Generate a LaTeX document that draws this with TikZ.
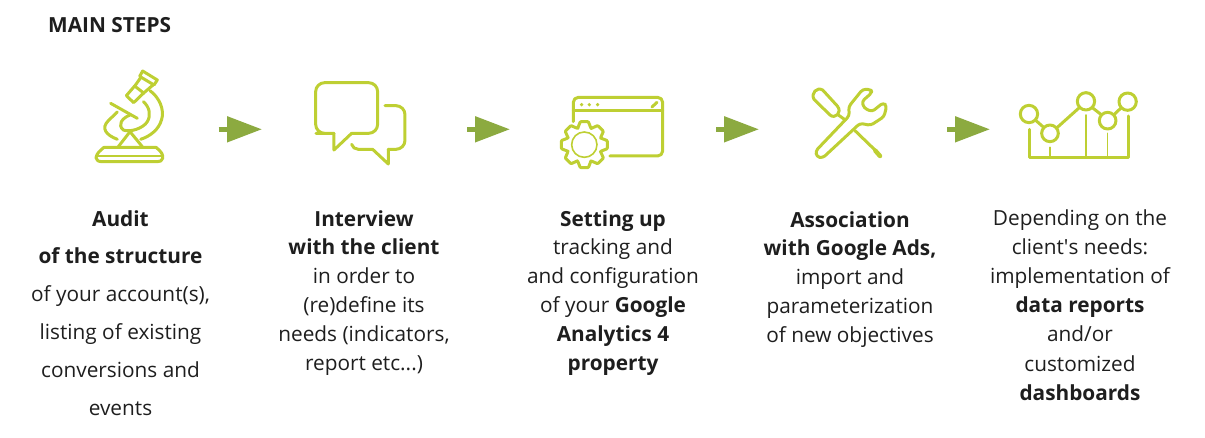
\documentclass[tikz,border=0pt]{standalone}
\usepackage{fontspec}
\setmainfont{Open Sans}
\newfontfamily\plainfont{Open Sans}
\usetikzlibrary{arrows.meta}
\definecolor{icon}{HTML}{BECF33}
\definecolor{flowc}{HTML}{8CAA40}
\definecolor{ink}{HTML}{1E1E1E}
\tikzset{
  x=1pt,y=-1pt,
  iconline/.style={draw=icon,line width=3pt,line cap=round,line join=round},
  thinline/.style={draw=icon,line width=1.6pt,line cap=round},
  flowarrow/.style={draw=flowc,line width=5pt,-{Triangle[length=35pt,width=25pt,fill=flowc]}},
  step text/.style={font=\fontsize{20.8}{#1}\selectfont,align=center,anchor=north,inner sep=0pt,text=ink},
  zoomA/.style={shift={(80,60)},x=0.3333pt,y=-0.3333pt},
  zoomB/.style={shift={(450,70)},x=0.3333pt,y=-0.3333pt},
  zoomC/.style={shift={(800,70)},x=0.3333pt,y=-0.3333pt}
}
\begin{document}
\begin{tikzpicture}
\useasboundingbox (0,0) rectangle (1205,437);
\node[anchor=base west,inner sep=0pt,font=\fontsize{20.8}{24}\selectfont\bfseries,text=ink] (title) at (48,32) {MAIN STEPS};

% microscope
\begin{scope}[zoomA]
 \draw[iconline] (179,49) -- (188,33) -- (232,60) -- (222,75) -- cycle;
 \draw[iconline] (182,53) -- (163,80) (219,75) -- (190,100);
 \draw[iconline] (139,107) -- (164,78) -- (191,99) -- (161,128) -- cycle;
 \draw[iconline] (210,92) .. controls (238,112) and (254,150) .. (245,178) .. controls (237,208) and (212,228) .. (182,238);
 \draw[iconline] (190,125) .. controls (208,140) and (214,165) .. (202,185) .. controls (190,205) and (150,218) .. (130,210) .. controls (112,195) and (125,175) .. (150,165);
 \draw[iconline] (92,130) -- (172,175);
 \draw[iconline] (112,156) -- (85,182) .. controls (62,205) and (78,225) .. (112,238);
 \draw[iconline] (150,215) -- (115,260) (150,215) -- (187,260);
 \draw[iconline] (72,262) -- (228,262) .. controls (245,275) and (250,285) .. (248,295) .. controls (246,303) and (240,305) .. (232,305) -- (65,305) .. controls (55,305) and (48,300) .. (48,293) .. controls (50,280) and (60,272) .. (72,262) -- cycle;
 \draw[thinline] (55,288) -- (243,288);
\end{scope}

% speech bubbles
\begin{scope}[zoomA]
 \draw[iconline,rounded corners=9pt] (762,220) -- (735,220) -- (707,220) -- (707,68) -- (893,68) -- (893,220) -- (815,220);
 \draw[iconline] (815,220) -- (762,270) -- (762,220);
 \draw[iconline,rounded corners=9pt] (915,137) -- (975,137) -- (975,268) -- (925,268);
 \draw[iconline] (925,268) -- (925,312) -- (878,268) -- (835,268) .. controls (825,268) and (818,262) .. (815,253);
\end{scope}

% window and gear
\begin{scope}[zoomB]
 \draw[iconline,rounded corners=5pt] (370,155) -- (370,82) -- (638,82) -- (638,258) -- (480,258);
 \draw[iconline] (370,122) -- (638,122);
 \fill[icon] (395,104) circle (5.5) (418,104) circle (5.5) (443,104) circle (5.5);
 \draw[iconline] (606,111) -- (621,97);
 \draw[iconline,rounded corners=0.8pt]
  \foreach \a in {0,45,...,315} {
    ({403+53*cos(\a-22)},{224+53*sin(\a-22)}) -- ({403+70*cos(\a-10)},{224+70*sin(\a-10)}) -- ({403+70*cos(\a+10)},{224+70*sin(\a+10)}) -- ({403+53*cos(\a+22)},{224+53*sin(\a+22)})
    -- ({403+53*cos(\a+45-22)},{224+53*sin(\a+45-22)})
  };
 \draw[thinline] (403,224) circle (38);
\end{scope}

% tools
\begin{scope}[zoomC]
 \draw[iconline,rounded corners=3pt] (47,243) -- (148,137) -- (146,110) -- (188,58) -- (212,58) -- (216,68) -- (186,94) -- (192,114) -- (216,125) -- (250,98) -- (260,108) -- (252,140) -- (212,166) -- (180,160) -- (68,264) -- (50,260) -- cycle;
 \draw[iconline] (42,88) .. controls (32,70) and (50,50) .. (68,60) -- (112,108) .. controls (128,128) and (105,148) .. (90,135) -- cycle;
 \draw[iconline] (115,135) -- (136,150) (165,182) -- (225,240);
 \draw[draw=icon,line width=4.5pt,line cap=round] (226,242) -- (240,258);
\end{scope}

% chart
\begin{scope}[zoomC]
 \draw[iconline] (690,178) -- (690,262) -- (985,262) -- (985,138);
 \draw[thinline] (750,232) -- (750,262) (858,135) -- (858,262) (923,190) -- (923,262);
 \draw[iconline] (687,132) circle (26) (750,190) circle (25) (858,94) circle (26) (923,152) circle (25) (983,95) circle (26);
 \draw[iconline] (706,150) -- (731,172) (770,174) -- (838,113) (877,113) -- (904,134) (942,134) -- (964,113);
\end{scope}

% arrows
\coordinate (a1s) at (218.5,129.3); \coordinate (a1e) at (262,129.3);
\coordinate (a2s) at (467.3,129.3); \coordinate (a2e) at (510,129.3);
\coordinate (a3s) at (716,129.3);   \coordinate (a3e) at (759,129.3);
\coordinate (a4s) at (947.3,129.3); \coordinate (a4e) at (990,129.3);
\draw[flowarrow] (a1s) -- (a1e);
\draw[flowarrow] (a2s) -- (a2e);
\draw[flowarrow] (a3s) -- (a3e);
\draw[flowarrow] (a4s) -- (a4e);

% texts
\node[step text=37.8] (s1) at (120.5,210) {\textbf{Audit}\\\textbf{of the structure}\\of your account(s),\\listing of existing\\conversions and\\events};
\node[step text=28.9] (s2) at (364,210) {\textbf{Interview}\\\textbf{with the client}\\in order to\\(re)define its\\needs (indicators,\\report etc...)};
\node[step text=28.9] (s3) at (613,210) {\textbf{Setting up}\\tracking and\\and configuration\\of your \textbf{Google}\\\textbf{Analytics 4}\\\textbf{property}};
\node[step text=28.9] (s4) at (850,211) {\textbf{Association}\\\textbf{with Google Ads,}\\import and\\parameterization\\of new objectives};
\node[step text=29.1] (s5) at (1080,209.5) {Depending on the\\client{\plainfont '}s needs:\\implementation of\\\textbf{data reports}\\and/or\\customized\\\textbf{dashboards}};
\end{tikzpicture}
\end{document}
